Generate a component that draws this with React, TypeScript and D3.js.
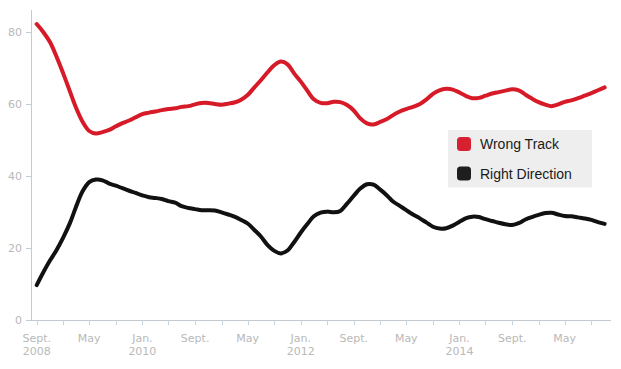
import React from "react";
import * as d3 from "d3";

const startYear = 2008;
const startMonth = 8; // September (0-based)

const wrongTrack = [
  82.2, 80, 77.2, 73.2, 68.5, 63.5, 59, 55, 52.5, 51.8, 52.2, 52.8, 53.8, 54.7, 55.4, 56.3,
  57.2, 57.6, 57.9, 58.3, 58.6, 58.8, 59.2, 59.4, 59.9, 60.3, 60.3, 60, 59.8, 60.1, 60.4, 61.2,
  62.5, 64.6, 66.6, 68.8, 70.8, 71.8, 71, 68.5, 66.2, 63.6, 61.3, 60.3, 60.2, 60.6, 60.5, 59.7,
  58.2, 56, 54.6, 54.3, 55, 55.8, 56.9, 57.9, 58.6, 59.2, 59.9, 61.2, 62.8, 63.8, 64.2, 64,
  63.2, 62.2, 61.6, 61.7, 62.3, 62.9, 63.3, 63.7, 64.1, 63.8, 62.6, 61.5, 60.5, 59.8, 59.4, 59.9,
  60.6, 61, 61.6, 62.3, 63, 63.8, 64.6,
];

const rightDirection = [
  9.7, 13.2, 16.5, 19.4, 22.9, 26.9, 31.4, 35.8, 38.3, 39, 38.8, 37.9, 37.3, 36.6, 35.9, 35.3,
  34.6, 34.1, 33.9, 33.6, 33, 32.6, 31.6, 31.1, 30.8, 30.5, 30.5, 30.4, 29.9, 29.3, 28.7, 27.8,
  26.8, 25, 23.2, 20.8, 19.2, 18.5, 19.3, 21.6, 24.3, 26.7, 28.8, 29.8, 30.1, 29.9, 30.3, 32.3,
  34.5, 36.5, 37.7, 37.6, 36.2, 34.6, 32.9, 31.7, 30.5, 29.3, 28.3, 27.1, 25.9, 25.4, 25.5, 26.2,
  27.3, 28.3, 28.7, 28.6, 28, 27.5, 27, 26.6, 26.4, 26.9, 27.9, 28.6, 29.2, 29.7, 29.8, 29.3,
  28.9, 28.8, 28.5, 28.2, 27.8, 27.2, 26.7,
];

const yTicks = [0, 20, 40, 60, 80];
const xTickLabels = [
  ["Sept.", "2008"], ["May"], ["Jan.", "2010"], ["Sept."], ["May"], ["Jan.", "2012"],
  ["Sept."], ["May"], ["Jan.", "2014"], ["Sept."], ["May"],
];

const series = [
  { name: "Wrong Track", values: wrongTrack, color: "#d71a28", swatch: "#d72030" },
  { name: "Right Direction", values: rightDirection, color: "#111111", swatch: "#1e1e1e" },
];

const W = 621;
const H = 369;
const axisLeft = 31;
const axisRight = 611;
const axisBottom = 320;
const axisTop = 10;

export default function App() {
  const monthDate = (i: number) => new Date(startYear, startMonth + i, 1);
  const base = d3.scaleTime().domain([monthDate(0), monthDate(80)]).range([36.7, 564.7]);
  const x = d3
    .scaleTime()
    .domain([base.invert(axisLeft), base.invert(axisRight)])
    .range([axisLeft, axisRight]);
  const y = d3.scaleLinear().domain([0, 86.1]).range([axisBottom, axisTop]);

  const minorTicks = d3.range(0, 85, 4).map(monthDate);
  const majorTicks = xTickLabels.map((_, i) => monthDate(i * 8));

  const line = d3
    .line<number>()
    .x((_, i) => x(monthDate(i)))
    .y((d) => y(d))
    .curve(d3.curveCatmullRom.alpha(0.5));

  const axisColor = "#c3cad2";
  const labelColor = "#b9b9b9";

  return (
    <svg width={W} height={H} style={{ position: "absolute", left: 0, top: 0, background: "#fff" }}>
      {/* y axis */}
      <line x1={axisLeft + 0.5} x2={axisLeft + 0.5} y1={axisTop} y2={axisBottom} stroke={axisColor} />
      {yTicks.map((t) => (
        <g key={t}>
          <line x1={axisLeft - 5} x2={axisLeft} y1={Math.round(y(t)) + 0.5} y2={Math.round(y(t)) + 0.5} stroke={axisColor} />
          <text
            x={axisLeft - 9}
            y={y(t) + 4}
            textAnchor="end"
            fontFamily="DejaVu Sans, Verdana, sans-serif"
            fontSize={11}
            fill={labelColor}
          >
            {t}
          </text>
        </g>
      ))}
      {/* x axis */}
      <line x1={axisLeft} x2={axisRight} y1={axisBottom + 0.5} y2={axisBottom + 0.5} stroke={axisColor} />
      {minorTicks.map((d, i) => (
        <line
          key={i}
          x1={Math.round(x(d)) + 0.5}
          x2={Math.round(x(d)) + 0.5}
          y1={axisBottom}
          y2={axisBottom + 5}
          stroke="#c6d3e0"
        />
      ))}
      {majorTicks.map((d, i) => (
        <text
          key={i}
          x={x(d)}
          y={axisBottom + 22}
          textAnchor="middle"
          fontFamily="DejaVu Sans, Verdana, sans-serif"
          fontSize={11}
          fill={labelColor}
        >
          {xTickLabels[i].map((s, j) => (
            <tspan key={j} x={x(d)} dy={j === 0 ? 0 : 13}>
              {s}
            </tspan>
          ))}
        </text>
      ))}
      {/* lines */}
      {series.map((s) => (
        <path
          key={s.name}
          d={line(s.values) || ""}
          fill="none"
          stroke={s.color}
          strokeWidth={4}
          strokeLinejoin="round"
          strokeLinecap="round"
        />
      ))}
      {/* legend */}
      <g>
        <rect x={448} y={130} width={144} height={57.5} fill="#eeeeee" />
        {series.map((s, i) => (
          <g key={s.name} transform={`translate(457, ${137 + i * 29.5})`}>
            <rect width={14} height={14} rx={3.5} fill={s.swatch} />
            <text
              x={23}
              y={12.3}
              fontFamily="Liberation Sans, Arial, sans-serif"
              fontSize={14}
              fill="#1a1a1a"
            >
              {s.name}
            </text>
          </g>
        ))}
      </g>
    </svg>
  );
}
